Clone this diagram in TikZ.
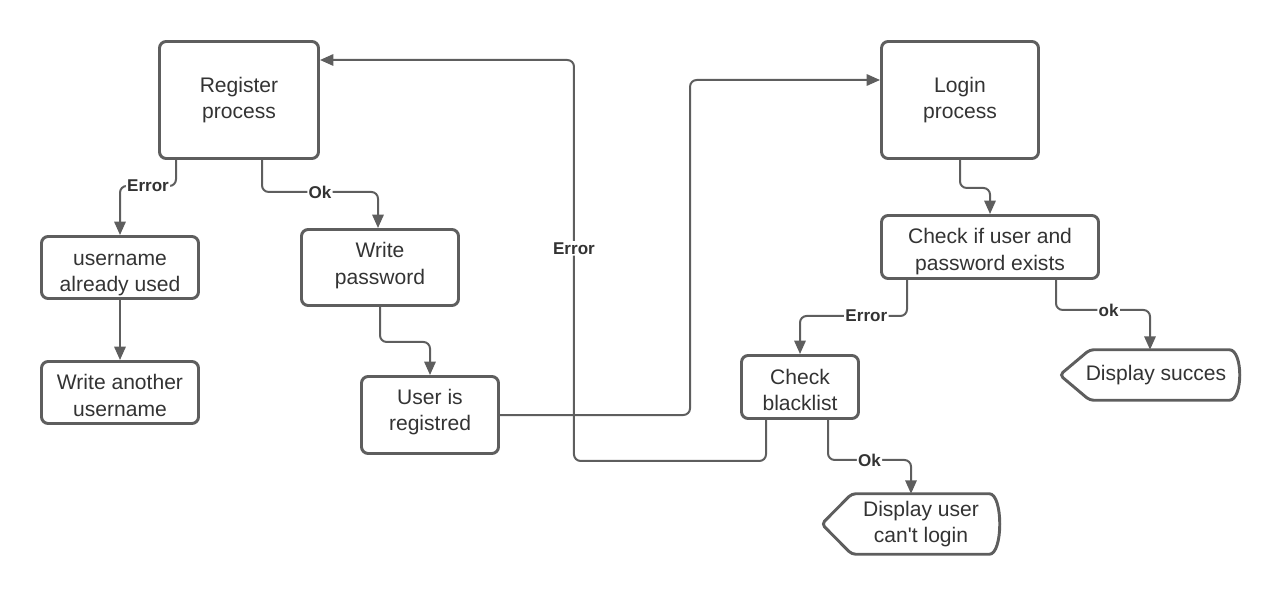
\documentclass[tikz,border=0pt]{standalone}
\usepackage{fontspec}
\setmainfont{Liberation Sans}
\usetikzlibrary{arrows.meta,calc}
\definecolor{ln}{HTML}{5E5E5E}
\definecolor{tx}{HTML}{333333}
\begin{document}
\begin{tikzpicture}[x=0.75pt,y=-0.75pt,
 box/.style={draw=ln,line width=2.2pt,rounded corners=5pt,inner sep=0pt},
 txt/.style={align=center,text=tx,font=\fontsize{15.8}{19.8}\selectfont,inner sep=0pt},
 disp/.style={align=center,text=tx,font=\fontsize{15.8}{19.8}\selectfont,inner sep=0pt},
 dline/.style={draw=ln,line width=2.2pt,rounded corners=3pt},
 conn/.style={draw=ln,line width=1.5pt,rounded corners=5pt,-{Triangle[length=10pt,width=8.5pt]}},
 lbl/.style={fill=white,font=\bfseries\fontsize{12.8}{14}\selectfont,text=tx,inner sep=1pt},
 ]
\useasboundingbox (0,0) rectangle (1280,595);

\node[box,minimum width=119.25pt,minimum height=87.75pt,label={[txt]center:{Register\\process}}] (reg) at (239,100) {};
\node[box,minimum width=117.75pt,minimum height=87.75pt,label={[txt]center:{Login\\process}}] (login) at (960,100) {};
\node[box,minimum width=117.75pt,minimum height=46.5pt,label={[txt,yshift=-5.5pt]center:{username\\already used}}] (user) at (120,267.5) {};
\node[box,minimum width=117.75pt,minimum height=46.5pt,label={[txt,yshift=-2.25pt]center:{Write another\\username}}] (wa) at (120,392.5) {};
\node[box,minimum width=117.75pt,minimum height=57pt,label={[txt,yshift=1.5pt]center:{Write\\password}}] (wp) at (380,267.5) {};
\node[box,minimum width=102.75pt,minimum height=57.75pt,label={[txt,yshift=2pt]center:{User is\\registred}}] (ur) at (430,415) {};
\node[box,minimum width=162.75pt,minimum height=47.25pt,label={[txt,yshift=-3.5pt]center:{Check if user and\\password exists}}] (check) at (990,247) {};
\node[box,minimum width=87.75pt,minimum height=47.25pt,label={[txt,yshift=-2.25pt]center:{Check\\blacklist}}] (bl) at (800,387) {};
\node[disp,minimum width=135pt,minimum height=37.5pt] (ds) at (1150,375) {\hspace*{9pt}Display succes};
\node[disp,minimum width=133.5pt,minimum height=45pt] (du) at (911,524) {\hspace*{15pt}Display user\\\hspace*{15pt}can\textquotesingle t login};

\draw[dline] (ds.west) -- ($(ds.north west)+(30,0)$) -- ($(ds.north east)+(-15,0)$)
  .. controls ($(ds.north east)+(3,0)$) and ($(ds.south east)+(3,0)$) .. ($(ds.south east)+(-15,0)$)
  -- ($(ds.south west)+(30,0)$) -- cycle;
\draw[dline] (du.west) -- ($(du.north west)+(30,0)$) -- ($(du.north east)+(-15,0)$)
  .. controls ($(du.north east)+(3,0)$) and ($(du.south east)+(3,0)$) .. ($(du.south east)+(-15,0)$)
  -- ($(du.south west)+(30,0)$) -- cycle;

\draw[conn] ($(reg.south)+(-63,0)$) -- ++(0,26) -| node[lbl,pos=0.25]{Error} (user.north);
\draw[conn] ($(reg.south)+(23,0)$) -- ++(0,32) -| node[lbl,pos=0.25]{Ok} ($(wp.north)+(-2,0)$);
\draw[conn] (user.south) -- (wa.north);
\draw[conn] (wp.south) -- ++(0,35) -| (ur.north);
\draw[conn] (ur.east) -| ($(login.west)+(-190,-20)$) -- ($(login.west)+(0,-20)$);
\draw[conn] (login.south) -- ++(0,28) -| (check.north);
\draw[conn] ($(check.south)+(-83,0)$) -- ++(0,36) -| node[lbl,pos=0.19]{Error} (bl.north);
\draw[conn] ($(check.south)+(66,0)$) -- ++(0,30) -| node[lbl,pos=0.28]{ok} (ds.north);
\draw[conn] ($(bl.south)+(28,0)$) -- ++(0,40) -| node[lbl,pos=0.25]{Ok} (du.north);
\draw[conn] ($(bl.south)+(-34,0)$) -- ++(0,41) -| node[lbl,pos=0.765]{Error} ($(reg.east)+(254,-40)$) -- ($(reg.east)+(0,-40)$);
\end{tikzpicture}
\end{document}
